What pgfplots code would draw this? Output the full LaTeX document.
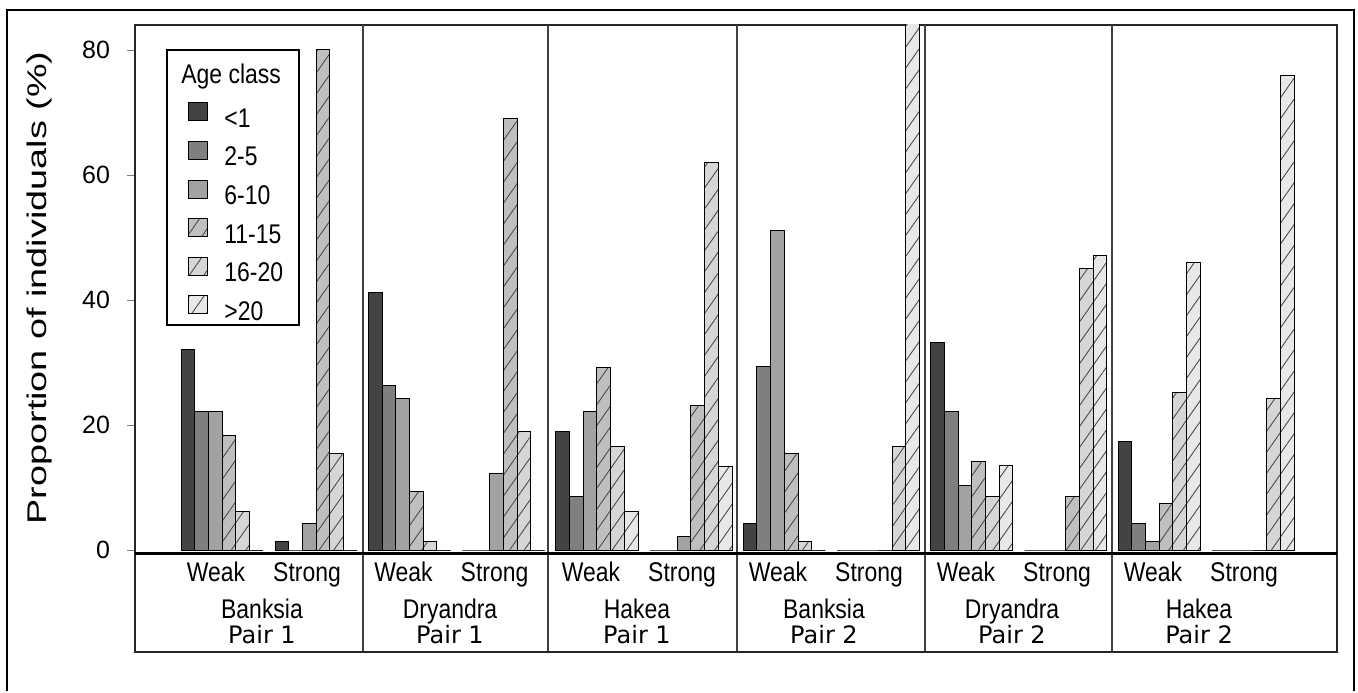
\documentclass[border=0pt]{standalone}
\usepackage{pgfplots}
\usepackage{pgfplotstable}
\pgfplotsset{compat=1.18}
\usepackage{fontspec}
\setmainfont{Liberation Sans}
\newfontfamily\narrowfont[FakeStretch=0.85]{Liberation Sans}
\newfontfamily\widefont[FakeStretch=1.4]{Liberation Sans}
\newfontfamily\pairfont{DejaVu Sans}
\usetikzlibrary{patterns.meta}

\definecolor{c1}{HTML}{434343}
\definecolor{c2}{HTML}{7F7F7F}
\definecolor{c3}{HTML}{A2A2A2}
\definecolor{c4}{HTML}{BFBFBF}
\definecolor{c5}{HTML}{D6D6D6}
\definecolor{c6}{HTML}{E8E8E8}

\pgfplotstableread{
x      a    b    c    d    e    f
87.1   32.1 22.2 22.2 18.4 6.2  0
181.1  1.3  0    4.3  80   15.5 0
274.5  41.2 26.4 24.3 9.3  1.3  0
368.5  0    0    12.3 69   19   0
461.9  19   8.5  22.2 29.2 16.5 6.2
555.9  0    0    2.2  23.2 62   13.4
649.3  4.3  29.4 51.1 15.5 1.3  0
743.3  0    0    0    0    16.5 90
836.7  33.2 22.2 10.4 14.2 8.5  13.6
930.7  0    0    0    8.5  45   47.1
1024.1 17.4 4.3  1.3  7.5  25.2 46
1118.1 0    0    0    0    24.3 76
}\datatable

\pgfplotsset{
  mybar/.style={ybar, bar width=13.7, draw=black, line width=0.5pt,
    legend image code/.code={\draw[##1, line width=0.5pt] (0pt,0pt) rectangle (9.5pt,9pt);}},
  hatch/.style={postaction={pattern={Lines[angle=55,distance=6pt,line width=0.45pt]},pattern color=black!70}}
}

\newcommand{\catfont}{\narrowfont\fontsize{13.5pt}{16pt}\selectfont}

\begin{document}
\begin{tikzpicture}
\begin{scope}[x=0.5pt,y=0.5pt]
\path[use as bounding box] (0,0) rectangle (1358,691);
\end{scope}
\begin{axis}[
  at={(67.5pt,69pt)}, anchor=south west,
  width=601pt, height=264pt, scale only axis,
  xmin=0, xmax=1202, ymin=-0.48, ymax=84,
  xtick=\empty,
  ytick={0,20,40,60,80},
  tick align=outside, tick pos=left,
  major tick length=4pt,
  /pgf/number format/assume math mode=true,
  yticklabel style={font=\fontsize{12.5pt}{14pt}\selectfont, xshift=-5pt},
  axis line style={line width=0.75pt, black!85},
  legend style={at={(axis description cs:0.0441,0.8542)}, anchor=north west,
    draw=none, fill=none, inner sep=0pt, row sep=2.3pt, column sep=7pt,
    font=\catfont,
    nodes={inner sep=1pt, text height=10pt, text depth=3.5pt}},
  legend cell align=left,
]
\addplot[mybar, fill=c1, bar shift=-34.25] table[x=x,y=a]{\datatable};
\addplot[mybar, fill=c2, bar shift=-20.55] table[x=x,y=b]{\datatable};
\addplot[mybar, fill=c3, bar shift=-6.85] table[x=x,y=c]{\datatable};
\addplot[mybar, fill=c4, hatch, bar shift=6.85] table[x=x,y=d]{\datatable};
\addplot[mybar, fill=c5, hatch, bar shift=20.55] table[x=x,y=e]{\datatable};
\addplot[mybar, fill=c6, hatch, bar shift=34.25] table[x=x,y=f]{\datatable};
\legend{{<1},{2-5},{6-10},{11-15},{16-20},{>20}}
\end{axis}
\begin{scope}[x=0.5pt,y=0.5pt]
% legend frame and title
\draw[line width=0.75pt] (167,641) rectangle (299,366);
\node[anchor=base west, inner sep=0pt, font=\catfont] at (181,607) {Age class};
% panel separators and category table
\foreach \sx in {363,548,737,925,1112} \draw[line width=0.6pt, black!75] (\sx,666) -- (\sx,39);
\draw[line width=0.75pt, black!85] (135,138) -- (135,39) -- (1337,39) -- (1337,138);
\draw[line width=1.5pt] (135,138) -- (1337,138);
% y label
\node[rotate=90, font=\widefont\fontsize{13.5pt}{16pt}\selectfont] at (40,403) {Proportion of individuals (\%)};
% Weak / Strong
\foreach \wx/\stx in {216/307, 403.5/494.5, 591/682, 778/869, 966/1057, 1153/1244} {
  \node[anchor=base, inner sep=0pt, font=\catfont] at (\wx,110) {Weak};
  \node[anchor=base, inner sep=0pt, font=\catfont] at (\stx,110) {Strong};
}
% species / pair
\foreach \px/\sp/\pr in {262/Banksia/1, 450/Dryandra/1, 637/Hakea/1, 824/Banksia/2, 1012/Dryandra/2, 1199/Hakea/2} {
  \node[anchor=base, inner sep=0pt, font=\catfont] at (\px,73) {\sp};
  \node[anchor=base, inner sep=0pt, font=\pairfont\fontsize{12pt}{14pt}\selectfont] at (\px,48) {Pair \pr};
}
% outer frame
\draw[line width=1pt] (7,0) -- (7,681) -- (1354,681) -- (1354,0);
\end{scope}
\end{tikzpicture}
\end{document}
